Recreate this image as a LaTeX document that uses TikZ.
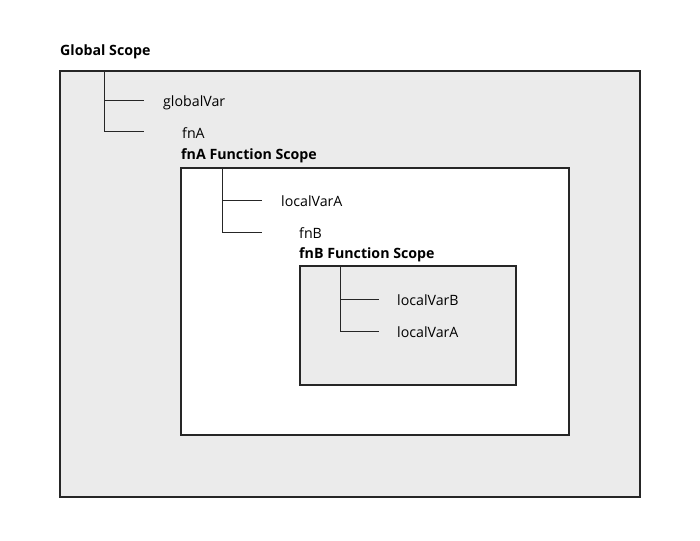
\documentclass[tikz,border=0pt]{standalone}
\usepackage{fontspec}
\setmainfont{Open Sans}
\begin{document}
\begin{tikzpicture}[x=1pt,y=-1pt,
  scopebox/.style={draw=black!85,line width=1.4pt},
  treeline/.style={draw=black!85,line width=1pt},
  lbl/.style={anchor=west,inner sep=0pt,yshift=-1.5pt,font=\fontsize{14.2}{17}\selectfont},
  title/.style={anchor=west,inner sep=0pt,yshift=-1.5pt,font=\fontsize{14.2}{17}\selectfont\bfseries}]
\useasboundingbox (0,0) rectangle (700,540);
% outer
\node[title] (gt) at (60,50) {Global Scope};
\draw[scopebox,fill=black!8] (60,71) rectangle (640,497);
\coordinate (g0) at (104,71);
\coordinate (g1) at (104,101);
\coordinate (g2) at (104,132);
\node[lbl] (gv) at (163,101) {globalVar};
\node[lbl] (fa) at (182,132) {fnA};
\draw[treeline] (g0) -- (g2) -- ++(40,0);
\draw[treeline] (g1) -- ++(40,0);
% fnA
\node[title] (at) at (181,154) {fnA Function Scope};
\draw[scopebox,fill=white] (181,168) rectangle (569,435);
\coordinate (a0) at (222,168);
\coordinate (a1) at (222,200);
\coordinate (a2) at (222,232);
\node[lbl] (la) at (281,200) {localVarA};
\node[lbl] (fb) at (299,232) {fnB};
\draw[treeline] (a0) -- (a2) -- ++(40,0);
\draw[treeline] (a1) -- ++(40,0);
% fnB
\node[title] (bt) at (299,253) {fnB Function Scope};
\draw[scopebox,fill=black!8] (300,266) rectangle (516,385);
\coordinate (b0) at (340,266);
\coordinate (b1) at (340,299);
\coordinate (b2) at (340,331);
\node[lbl] (lb) at (397,299) {localVarB};
\node[lbl] (la2) at (397,331) {localVarA};
\draw[treeline] (b0) -- (b2) -- ++(39,0);
\draw[treeline] (b1) -- ++(39,0);
\end{tikzpicture}
\end{document}
